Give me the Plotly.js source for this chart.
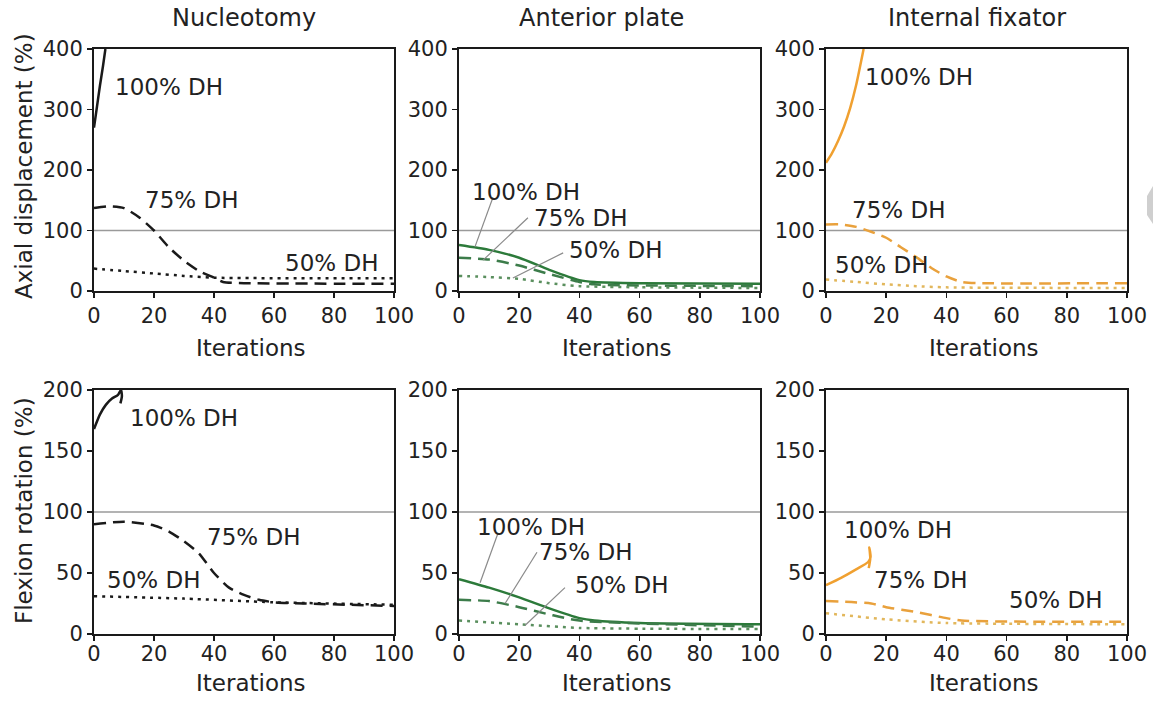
<!DOCTYPE html>
<html><head><meta charset="utf-8">
<script src="https://cdn.plot.ly/plotly-3.0.1.min.js"></script>
<style>html,body{margin:0;padding:0;background:#fff}</style>
</head><body><div id="chart" style="width:1153px;height:702px"></div>
<script>
// ---- Column / axis labels ----
const columnTitles = ['Nucleotomy', 'Anterior plate', 'Internal fixator'];
const rowTitles = ['Axial displacement (%)', 'Flexion rotation (%)'];
const xTitle = 'Iterations';
const seriesNames = ['100% DH', '75% DH', '50% DH'];
const xTicks = [0, 20, 40, 60, 80, 100];
const yTicksAxial = [0, 100, 200, 300, 400];
const yTicksFlex = [0, 50, 100, 150, 200];

// ---- Nucleotomy, axial ----
const nucAxX100 = [0, 1, 2, 3, 3.8];
const nucAxY100 = [270, 305, 340, 372, 400];
const nucAxX75 = [0, 5, 10, 15, 20, 25, 30, 35, 40, 43, 50, 100];
const nucAxY75 = [137, 140, 137, 122, 100, 72, 50, 33, 22, 15, 13, 12];
const nucAxX50 = [0, 10, 20, 30, 40, 100];
const nucAxY50 = [37, 33, 29, 25, 22, 21];

// ---- Anterior plate, axial ----
const antAxX100 = [0, 10, 20, 30, 40, 45, 60, 100];
const antAxY100 = [76, 68, 55, 35, 18, 15, 13, 12];
const antAxX75 = [0, 10, 20, 30, 40, 45, 100];
const antAxY75 = [55, 52, 42, 28, 15, 11, 8];
const antAxX50 = [0, 10, 20, 30, 40, 100];
const antAxY50 = [25, 23, 20, 13, 8, 5];

// ---- Internal fixator, axial ----
const fixAxX100 = [0, 2, 4, 6, 8, 10, 12.5];
const fixAxY100 = [212, 228, 248, 272, 302, 340, 400];
const fixAxX75 = [0, 5, 10, 15, 20, 25, 30, 35, 40, 45, 50, 100];
const fixAxY75 = [110, 110, 106, 98, 88, 72, 56, 38, 24, 15, 13, 13];
const fixAxX50 = [0, 10, 20, 30, 40, 100];
const fixAxY50 = [19, 15, 11, 8, 6, 5];

// ---- Nucleotomy, flexion ----
const nucFlX100 = [0, 2, 4, 6, 8, 9, 9.3, 8.8];
const nucFlY100 = [168, 180, 188, 193, 196, 200, 195, 189];
const nucFlX75 = [0, 10, 20, 25, 30, 35, 40, 45, 50, 55, 60, 70, 100];
const nucFlY75 = [90, 92, 89, 84, 76, 66, 50, 38, 32, 28, 26, 25, 23];
const nucFlX50 = [0, 30, 60, 100];
const nucFlY50 = [31, 29, 26, 24];

// ---- Anterior plate, flexion ----
const antFlX100 = [0, 10, 20, 30, 40, 45, 60, 100];
const antFlY100 = [45, 38, 30, 21, 13, 11, 9, 8];
const antFlX75 = [0, 10, 20, 30, 40, 100];
const antFlY75 = [28, 27, 22, 16, 11, 6];
const antFlX50 = [0, 20, 40, 100];
const antFlY50 = [11, 8, 5, 4];

// ---- Internal fixator, flexion ----
const fixFlX100 = [0, 5, 10, 14, 14.8, 14.4, 14.7, 14.2];
const fixFlY100 = [40, 46, 53, 59, 63, 71, 62, 54];
const fixFlX75 = [0, 15, 20, 30, 40, 45, 100];
const fixFlY75 = [27, 25, 22, 18, 13, 11, 10];
const fixFlX50 = [0, 20, 40, 100];
const fixFlY50 = [17, 12, 9, 8];

// ---- label positions (data coords) per panel: [x, y] for 100/75/50 ----
const labelPos = [
  [[6.3, 338], [16.3, 150], [63, 46]],
  [[3.6, 164], [24.3, 121], [35.9, 68]],
  [[12.3, 354], [8.0, 134], [2.3, 43]],
  [[11.3, 177], [36.9, 79.5], [3.6, 44]],
  [[5.3, 88], [25.9, 67], [37.9, 40]],
  [[5.3, 85], [15.3, 44], [60.1, 27.5]]
];
// leader lines for anterior plate panels: [x0,y0,x1,y1]
const leadersAxial = [[11.3, 155, 5.3, 73], [22.9, 121, 8.0, 51], [34.6, 63, 17.9, 21.5]];
const leadersFlex = [[13, 83, 7, 42], [25.9, 67, 15.3, 25], [35.2, 38, 21.9, 7]];

const FONT = 'DejaVu Sans, Arial, sans-serif';
const black = '#1a1a1a';
const greens = ['#2c7a3a', '#3c7c4a', '#5a8f5e'];
const oranges = ['#f0a030', '#e9a13c', '#e2b75c'];
const blacks = [black, black, black];
const dashes = ['solid', '12px,7px', '3px,5px'];

const panels = [
  {xs: [nucAxX100, nucAxX75, nucAxX50], ys: [nucAxY100, nucAxY75, nucAxY50], c: blacks},
  {xs: [antAxX100, antAxX75, antAxX50], ys: [antAxY100, antAxY75, antAxY50], c: greens},
  {xs: [fixAxX100, fixAxX75, fixAxX50], ys: [fixAxY100, fixAxY75, fixAxY50], c: oranges},
  {xs: [nucFlX100, nucFlX75, nucFlX50], ys: [nucFlY100, nucFlY75, nucFlY50], c: blacks},
  {xs: [antFlX100, antFlX75, antFlX50], ys: [antFlY100, antFlY75, antFlY50], c: greens},
  {xs: [fixFlX100, fixFlX75, fixFlX50], ys: [fixFlY100, fixFlY75, fixFlY50], c: oranges}
];

const W = 1153, H = 702;
const px = v => v / W, py = v => 1 - v / H;
const xDomains = [[94, 394], [459, 760], [826, 1127]];
const yDomains = [[49, 291], [390, 634]];

const traces = [];
const annotations = [];
const shapes = [];
const layout = {
  width: W, height: H,
  margin: {l: 0, r: 0, t: 0, b: 0},
  paper_bgcolor: '#fff', plot_bgcolor: '#fff',
  showlegend: false,
  font: {family: FONT, size: 21, color: '#222'}
};

panels.forEach((p, i) => {
  const n = i + 1;
  const sfx = n === 1 ? '' : String(n);
  const col = i % 3, row = Math.floor(i / 3);
  const xa = 'x' + sfx, ya = 'y' + sfx;
  for (let k = 0; k < 3; k++) {
    traces.push({
      type: 'scatter', mode: 'lines', x: p.xs[k], y: p.ys[k], xaxis: xa, yaxis: ya,
      name: seriesNames[k], hoverinfo: 'skip',
      line: {color: p.c[k], width: 2.5, dash: dashes[k], shape: 'spline', smoothing: 0.6}
    });
    annotations.push({
      xref: xa, yref: ya, x: labelPos[i][k][0], y: labelPos[i][k][1],
      text: seriesNames[k], showarrow: false, xanchor: 'left', yanchor: 'middle',
      font: {family: FONT, size: 23, color: '#222'}
    });
  }
  const isAx = row === 0;
  layout['xaxis' + sfx] = {
    domain: [px(xDomains[col][0]), px(xDomains[col][1])], anchor: ya,
    range: [0, 100], tickvals: xTicks, ticks: 'outside', ticklen: 5, tickwidth: 1.5, tickcolor: black,
    showline: true, linecolor: black, linewidth: 2, mirror: true, showgrid: false, zeroline: false,
    ticklabelstandoff: isAx ? 0 : -5,
    tickfont: {family: FONT, size: 21, color: '#222'}, fixedrange: true
  };
  layout['yaxis' + sfx] = {
    domain: [py(yDomains[row][1]), py(yDomains[row][0])], anchor: xa,
    range: isAx ? [0, 400] : [0, 200], tickvals: isAx ? yTicksAxial : yTicksFlex,
    ticks: 'outside', ticklen: 5, tickwidth: 1.5, tickcolor: black,
    showline: true, linecolor: black, linewidth: 2, mirror: true, showgrid: false, zeroline: false,
    tickfont: {family: FONT, size: 21, color: '#222'}, fixedrange: true
  };
  // 100% reference line
  shapes.push({type: 'line', xref: xa, yref: ya, x0: 0, x1: 100, y0: 100, y1: 100,
    line: {color: '#9a9a9a', width: 1.5}, layer: 'below'});
  // x-axis title
  const xc = (xDomains[col][0] + xDomains[col][1]) / 2 + 7;
  annotations.push({xref: 'paper', yref: 'paper', x: px(xc), y: py(isAx ? 348 : 683),
    text: xTitle, showarrow: false, xanchor: 'center', yanchor: 'middle',
    font: {family: FONT, size: 23, color: '#222'}});
});

// leader lines (anterior plate)
[[leadersAxial, 'x2', 'y2'], [leadersFlex, 'x5', 'y5']].forEach(([ls, xa, ya]) => {
  ls.forEach(l => shapes.push({type: 'line', xref: xa, yref: ya, x0: l[0], y0: l[1], x1: l[2], y1: l[3],
    line: {color: '#8a8a8a', width: 1.2}}));
});

// column titles
const titleCenters = [244, 601, 977];
columnTitles.forEach((t, i) => annotations.push({xref: 'paper', yref: 'paper', x: px(titleCenters[i]), y: py(18),
  text: t, showarrow: false, xanchor: 'center', yanchor: 'middle', font: {family: FONT, size: 24, color: '#222'}}));
// row titles
const rowCenters = [166, 511];
rowTitles.forEach((t, i) => annotations.push({xref: 'paper', yref: 'paper', x: px(24), y: py(rowCenters[i]),
  text: t, textangle: -90, showarrow: false, xanchor: 'center', yanchor: 'middle',
  font: {family: FONT, size: 23, color: '#222'}}));

// small grey page-edge artefact on the right
shapes.push({type: 'path', xref: 'paper', yref: 'paper',
  path: `M ${px(1153)} ${py(186)} L ${px(1147)} ${py(196)} L ${px(1147)} ${py(215)} L ${px(1153)} ${py(224)} Z`,
  fillcolor: '#cfcfcf', line: {width: 0}});

layout.annotations = annotations;
layout.shapes = shapes;

Plotly.newPlot('chart', traces, layout, {staticPlot: true, displayModeBar: false});
</script></body></html>
